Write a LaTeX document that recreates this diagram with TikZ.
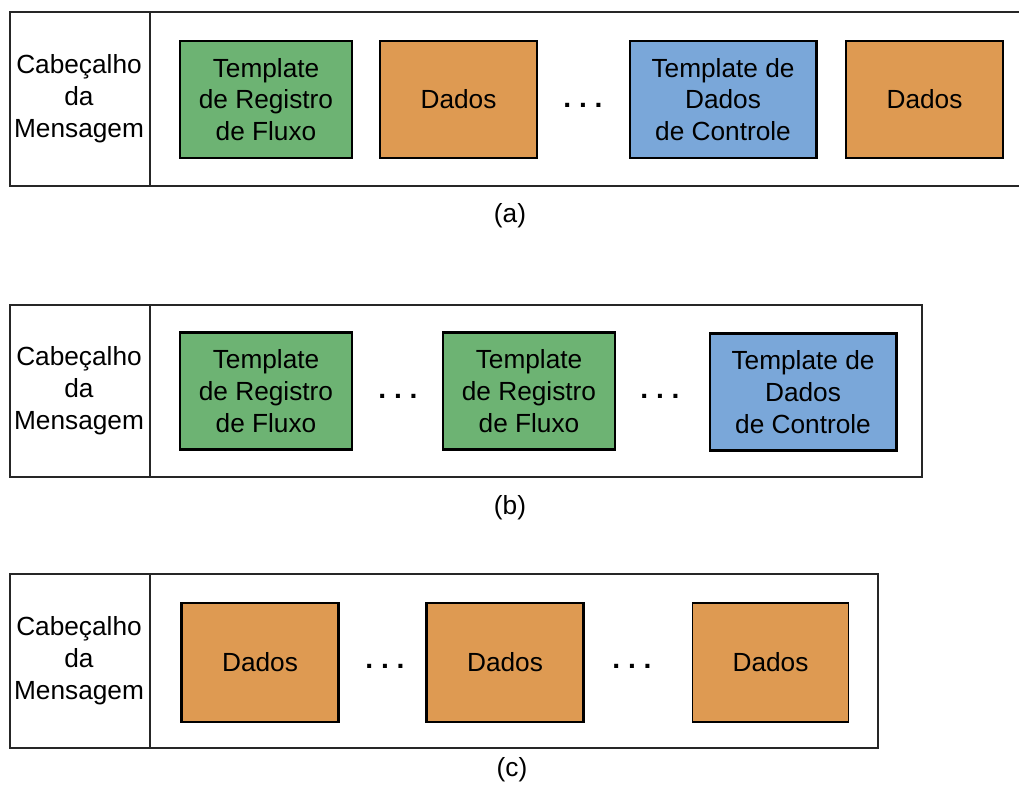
\documentclass[tikz,border=0pt]{standalone}
\usepackage{fontspec}
\setmainfont{Liberation Sans}
\usepackage{xcolor}
\usepackage{tikz}
\usetikzlibrary{positioning}
\definecolor{verde}{RGB}{109,179,115}
\definecolor{laranja}{RGB}{222,154,82}
\definecolor{azul}{RGB}{122,167,217}
\tikzset{
  quadro/.style={draw=black!85,line width=1.1pt},
  bloco/.style={draw,line width=2pt,align=center,inner sep=0pt,minimum height=3.5cm},
  tpl/.style={bloco,fill=verde,minimum width=5.15cm},
  dado/.style={bloco,fill=laranja,minimum width=4.7cm},
  ctl/.style={bloco,fill=azul,minimum width=5.6cm},
  cab/.style={align=center,inner sep=0pt},
  pts/.style={font=\fontsize{24}{28}\bfseries\selectfont},
}
\begin{document}
\begin{tikzpicture}[x=0.03cm,y=-0.03cm,font=\fontsize{22.4}{27.2}\selectfont]
  \useasboundingbox (0,0) rectangle (1019,784); %与参考图同样大小
  % (a)
  \draw[quadro] (1030,12) -- (10,12) -- (10,186) -- (1030,186);
  \draw[quadro] (150,12) -- (150,186);
  \node[cab] (cabA) at (79,99) {Cabeçalho\\da\\Mensagem};
  \node[tpl] (regA) at (266,99.5) {Template\\de Registro\\de Fluxo};
  \node[dado] (dadA1) at (458.5,99.5) {Dados};
  \node[pts] (ptsA) at (583,105) {.\ .\ .};
  \node[ctl] (ctlA) at (723,99.5) {Template de\\Dados\\de Controle};
  \node[dado] (dadA2) at (924.5,99.5) {Dados};
  \node (legA) at (510,216) {(a)};
  % (b)
  \draw[quadro] (10,305) rectangle (922,477);
  \draw[quadro] (150,305) -- (150,477);
  \node[cab] (cabB) at (79,391) {Cabeçalho\\da\\Mensagem};
  \node[tpl] (regB1) at (266,391) {Template\\de Registro\\de Fluxo};
  \node[pts] (ptsB1) at (398,396) {.\ .\ .};
  \node[tpl] (regB2) at (529,391) {Template\\de Registro\\de Fluxo};
  \node[pts] (ptsB2) at (660,396) {.\ .\ .};
  \node[ctl] (ctlB) at (803,392) {Template de\\Dados\\de Controle};
  \node (legB) at (510,508) {(b)};
  % (c)
  \draw[quadro] (10,574) rectangle (878,748);
  \draw[quadro] (150,574) -- (150,748);
  \node[cab] (cabC) at (79,661) {Cabeçalho\\da\\Mensagem};
  \node[dado,minimum height=3.57cm] (dadC1) at (260,662.5) {Dados};
  \node[pts] (ptsC1) at (385,666) {.\ .\ .};
  \node[dado,minimum height=3.57cm] (dadC2) at (505,662.5) {Dados};
  \node[pts] (ptsC2) at (632,666) {.\ .\ .};
  \node[dado,minimum height=3.57cm,line width=1pt] (dadC3) at (770.5,662.5) {Dados}; % 边框较细
  \node (legC) at (512,770) {(c)};
\end{tikzpicture}
\end{document}
